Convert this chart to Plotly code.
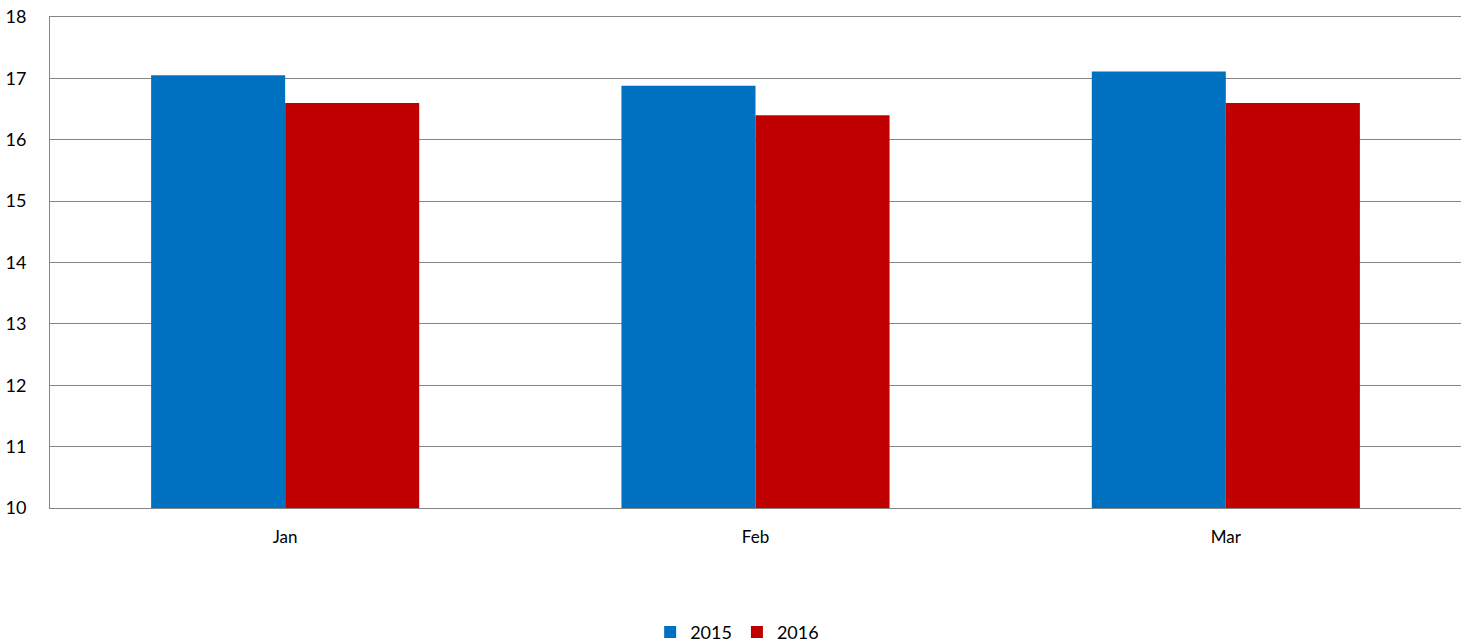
import plotly.graph_objects as go

categories = ["Jan", "Feb", "Mar"]
series_names = ["2015", "2016"]
values_2015 = [17.05, 16.88, 17.11]
values_2016 = [16.6, 16.4, 16.6]
colors = ["#0070C0", "#C00000"]

fig = go.Figure()
for name, vals, col in zip(series_names, [values_2015, values_2016], colors):
    fig.add_trace(go.Bar(x=categories, y=vals, name=name, marker=dict(color=col, line=dict(width=0))))

fig.update_layout(
    width=1468, height=643,
    paper_bgcolor="white", plot_bgcolor="white",
    margin=dict(l=50, r=7, t=17, b=135, autoexpand=False),
    barmode="group", bargap=0.43, bargroupgap=0,
    font=dict(family="Lato", size=17, color="#000000"),
    showlegend=True,
    legend=dict(orientation="h", x=0.487, xanchor="center", y=-0.253, yanchor="middle",
                font=dict(size=18), itemwidth=30, tracegroupgap=0),
    xaxis=dict(showgrid=False, showline=True, mirror=True, linecolor="#868686", linewidth=1,
               ticks="", ticklabelstandoff=14, automargin=False, tickfont=dict(size=17),
               ticklabeloverflow="allow"),
    yaxis=dict(range=[10, 18], dtick=1, showgrid=True, gridcolor="#868686", gridwidth=1,
               showline=True, linecolor="#868686", linewidth=1, ticks="",
               ticklabelstandoff=19, zeroline=False, automargin=False, tickfont=dict(size=18),
               ticklabeloverflow="allow"),
)
# remove the page's default 8px body margin so the figure fills the window exactly
fig.write_html("out.html", config={"displayModeBar": False},
               post_script="document.body.style.margin='0';")
